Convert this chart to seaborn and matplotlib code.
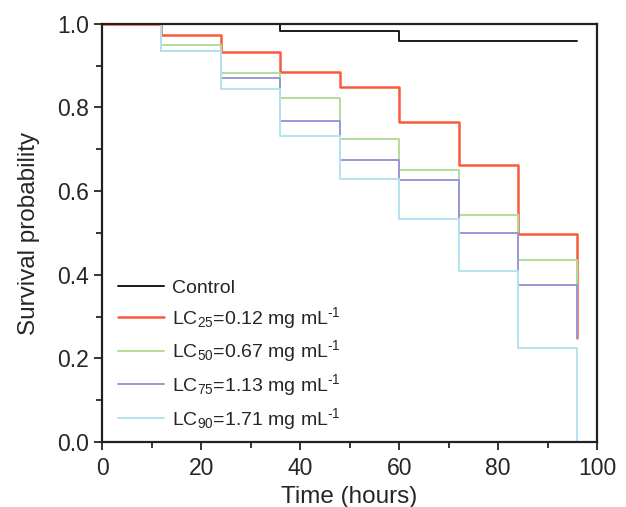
# -*- coding: utf-8 -*-

import pandas as pd
import seaborn as sns
import matplotlib.pyplot as plt
from matplotlib.ticker import MultipleLocator

# survival curves (step-post, last point = final drop at 96 h)
time = [0, 12, 24, 36, 48, 60, 72, 84, 96]
control = [1.0, 1.0, 1.0, 0.982, 0.982, 0.958, 0.958, 0.958, 0.958]
lc25 = [1.0, 0.974, 0.932, 0.886, 0.850, 0.765, 0.663, 0.497, 0.248]
lc50 = [1.0, 0.950, 0.882, 0.822, 0.724, 0.651, 0.543, 0.435, 0.376]
lc75 = [1.0, 0.936, 0.870, 0.767, 0.675, 0.626, 0.501, 0.376, 0.248]
lc90 = [1.0, 0.936, 0.844, 0.731, 0.629, 0.534, 0.408, 0.225, 0.0]

labels = [
    "Control",
    r"LC$_{25}$=0.12 mg mL$^{\text{-}1}$",
    r"LC$_{50}$=0.67 mg mL$^{\text{-}1}$",
    r"LC$_{75}$=1.13 mg mL$^{\text{-}1}$",
    r"LC$_{90}$=1.71 mg mL$^{\text{-}1}$",
]
series = [control, lc25, lc50, lc75, lc90]
colors = ["#1a1a1a", "#fa5a3a", "#b2dc98", "#9898d8", "#b4e2f2"]
widths = [1.4, 1.8, 1.4, 1.4, 1.4]

rows = []
for lab, vals in zip(labels, series):
    for t, v in zip(time, vals):
        rows.append({"time": t, "surv": v, "group": lab})
df = pd.DataFrame(rows)

sns.set_theme(style="ticks")
plt.rcParams["font.family"] = ["Liberation Sans", "DejaVu Sans"]
plt.rcParams["mathtext.fontset"] = "custom"
plt.rcParams["mathtext.rm"] = "Liberation Sans"
plt.rcParams["mathtext.it"] = "Liberation Sans"
plt.rcParams["mathtext.default"] = "regular"

fig = plt.figure(figsize=(6.26, 5.07), dpi=100)
ax = fig.add_axes([0.163, 0.128, 0.791, 0.825])

sns.lineplot(
    data=df, x="time", y="surv", hue="group", hue_order=labels,
    palette=colors, estimator=None, drawstyle="steps-post", ax=ax,
    legend=False,
)
for line, lw in zip(ax.lines, widths):
    line.set_linewidth(lw)
    line.set_clip_on(False)

ax.set_xlim(0, 100)
ax.set_ylim(0, 1.0)
ax.xaxis.set_major_locator(MultipleLocator(20))
ax.xaxis.set_minor_locator(MultipleLocator(10))
ax.yaxis.set_major_locator(MultipleLocator(0.2))
ax.yaxis.set_minor_locator(MultipleLocator(0.1))
ax.yaxis.set_major_formatter(plt.FormatStrFormatter("%.1f"))
ax.tick_params(which="major", direction="out", length=6, width=1.3, labelsize=16.5)
ax.tick_params(axis="x", which="major", pad=5)
ax.tick_params(which="minor", direction="out", length=4, width=1.3)
for sp in ax.spines.values():
    sp.set_visible(True)
    sp.set_linewidth(1.6)
    sp.set_color("#222222")

ax.set_xlabel("Time (hours)", fontsize=17.5, labelpad=4)
ax.set_ylabel("Survival probability", fontsize=17.5, labelpad=12)

handles = [plt.Line2D([], [], color=c, lw=lw) for c, lw in zip(colors, widths)]
leg = ax.legend(
    handles, labels, loc="lower left", bbox_to_anchor=(0.0, -0.012),
    fontsize=14, frameon=True, framealpha=1, edgecolor="white",
    handlelength=2.4, handletextpad=0.4, labelspacing=0.4, borderpad=0.3,
    fancybox=False,
)
leg.get_frame().set_linewidth(0)

fig.savefig("out.png", dpi=100)
